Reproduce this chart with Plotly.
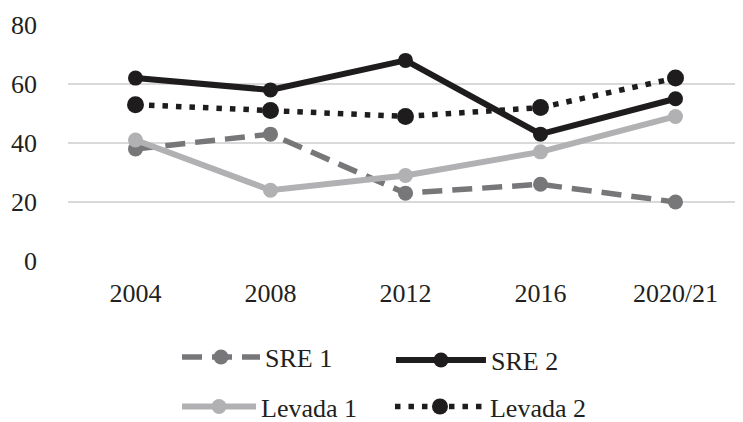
import plotly.graph_objects as go

categories = ["2004", "2008", "2012", "2016", "2020/21"]
sre1 = [38, 43, 23, 26, 20]
sre2 = [62, 58, 68, 43, 55]
levada1 = [41, 24, 29, 37, 49]
levada2 = [53, 51, 49, 52, 62]
y_ticks = [0, 20, 40, 60, 80]

FONT = "Times New Roman, Liberation Serif, DejaVu Serif"
TXT = "#231f20"

fig = go.Figure()
fig.add_trace(go.Scatter(x=categories, y=sre1, name="SRE 1", mode="lines+markers",
                         line=dict(color="#77777a", width=5.5, dash="20px,10px"),
                         marker=dict(size=15, color="#77777a"), legend="legend"))
fig.add_trace(go.Scatter(x=categories, y=sre2, name="SRE 2", mode="lines+markers",
                         line=dict(color="#1e1c1d", width=6),
                         marker=dict(size=15, color="#1e1c1d"), legend="legend2"))
fig.add_trace(go.Scatter(x=categories, y=levada1, name="Levada 1", mode="lines+markers",
                         line=dict(color="#b1b1b3", width=6),
                         marker=dict(size=15, color="#b1b1b3"), legend="legend3"))
fig.add_trace(go.Scatter(x=categories, y=levada2, name="Levada 2", mode="lines+markers",
                         line=dict(color="#1e1c1d", width=5.5, dash="5.5px,8px"),
                         marker=dict(size=17, color="#1e1c1d"), legend="legend4"))


def leg(x, y, w):
    return dict(orientation="h", font=dict(family=FONT, size=26, color=TXT),
                itemwidth=w, bgcolor="rgba(0,0,0,0)", x=x, y=y,
                xanchor="left", yanchor="middle")


fig.update_layout(
    width=735, height=414,
    margin=dict(l=60, r=0, t=17, b=161, autoexpand=False),
    paper_bgcolor="white", plot_bgcolor="white",
    font=dict(family=FONT, size=26, color=TXT),
    showlegend=True,
    legend=leg(0.1615, -0.407, 78),
    legend2=leg(0.4785, -0.42, 90),
    legend3=leg(0.1615, -0.617, 74),
    legend4=leg(0.4770, -0.617, 90),
    xaxis=dict(type="category", range=[-0.5, 4.5], showgrid=False, zeroline=False,
               showline=False, ticks="", ticklabelstandoff=14, automargin=False,
               tickfont=dict(family=FONT, size=26, color=TXT)),
    yaxis=dict(range=[0, 80], tickvals=y_ticks, showgrid=True, gridcolor="#d9d9d9",
               gridwidth=2, zeroline=False, showline=False, ticks="",
               ticklabelstandoff=30, automargin=False,
               tickfont=dict(family=FONT, size=26, color=TXT)),
)

fig.write_html("out.html")
